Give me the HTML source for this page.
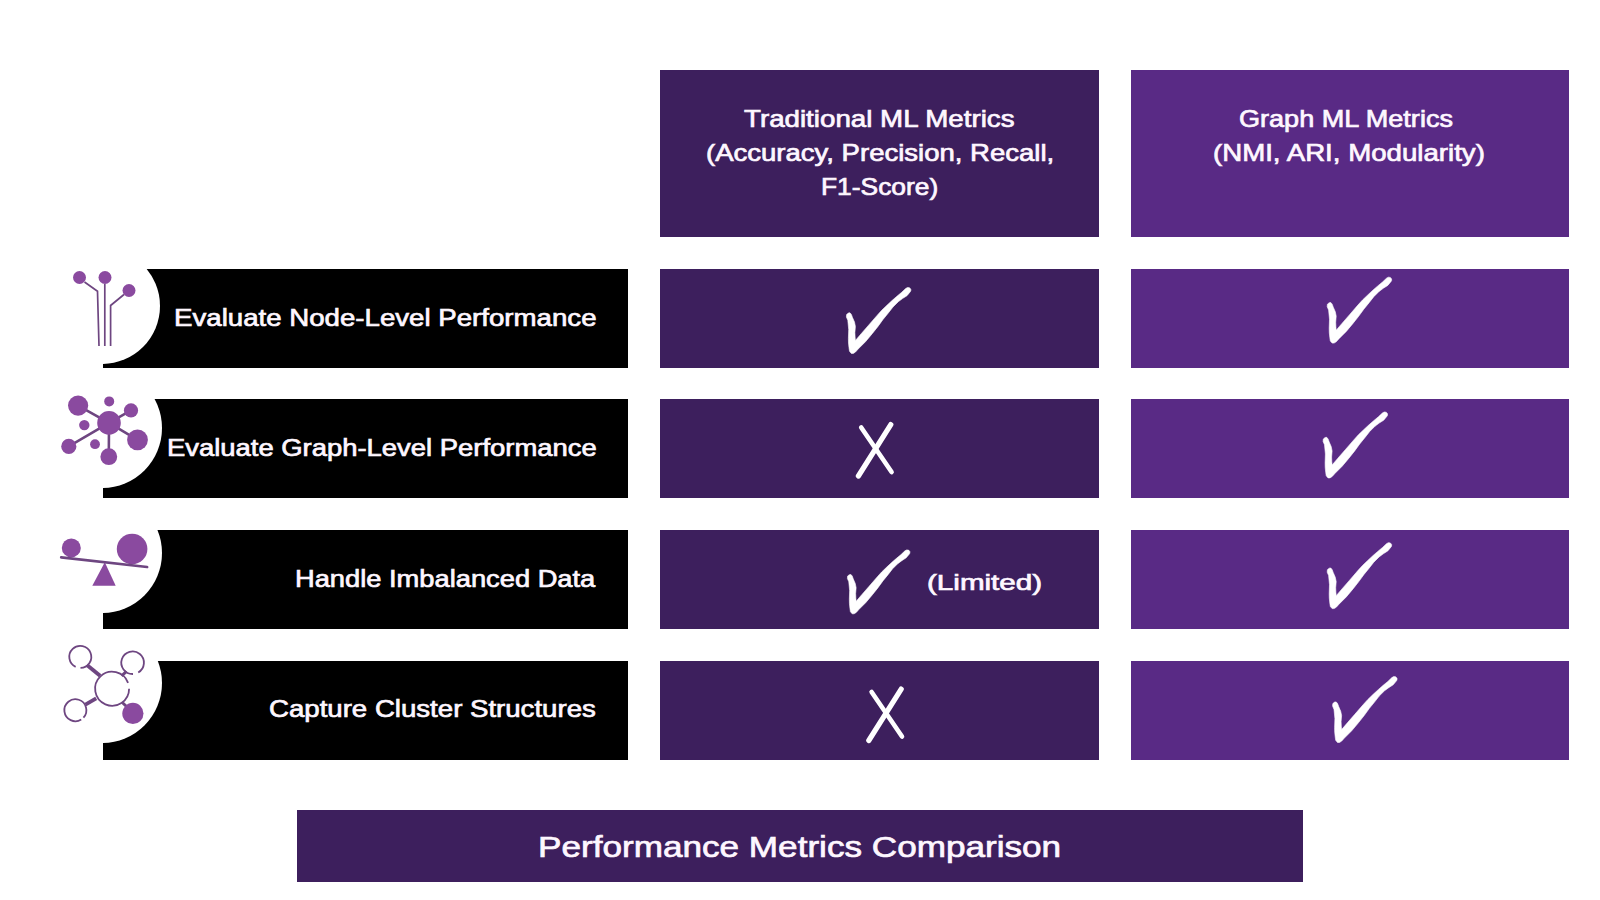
<!DOCTYPE html>
<html>
<head>
<meta charset="utf-8">
<style>
html,body{margin:0;padding:0;}
body{width:1600px;height:900px;position:relative;overflow:hidden;background:#fff;font-family:"Liberation Sans",sans-serif;}
.r{position:absolute;}
.t{position:absolute;white-space:nowrap;color:#fef7ff;transform-origin:0 0;}
svg{position:absolute;left:0;top:0;}
</style>
</head>
<body>
<div class="r" style="left:660px;top:70px;width:439px;height:167px;background:#3d1f5d"></div>
<div class="r" style="left:1131px;top:70px;width:438px;height:167px;background:#592a85"></div>
<div class="r" style="left:660px;top:269px;width:439px;height:99px;background:#3d1f5d"></div>
<div class="r" style="left:1131px;top:269px;width:438px;height:99px;background:#592a85"></div>
<div class="r" style="left:103px;top:269px;width:525px;height:99px;background:#000;overflow:hidden"><div class="r" style="left:-59px;top:-21px;width:116px;height:116px;border-radius:50%;background:#fff"></div></div>
<div class="r" style="left:660px;top:399px;width:439px;height:99px;background:#3d1f5d"></div>
<div class="r" style="left:1131px;top:399px;width:438px;height:99px;background:#592a85"></div>
<div class="r" style="left:103px;top:399px;width:525px;height:99px;background:#000;overflow:hidden"><div class="r" style="left:-61px;top:-31px;width:120px;height:120px;border-radius:50%;background:#fff"></div></div>
<div class="r" style="left:660px;top:530px;width:439px;height:99px;background:#3d1f5d"></div>
<div class="r" style="left:1131px;top:530px;width:438px;height:99px;background:#592a85"></div>
<div class="r" style="left:103px;top:530px;width:525px;height:99px;background:#000;overflow:hidden"><div class="r" style="left:-61px;top:-37px;width:120px;height:120px;border-radius:50%;background:#fff"></div></div>
<div class="r" style="left:660px;top:661px;width:439px;height:99px;background:#3d1f5d"></div>
<div class="r" style="left:1131px;top:661px;width:438px;height:99px;background:#592a85"></div>
<div class="r" style="left:103px;top:661px;width:525px;height:99px;background:#000;overflow:hidden"><div class="r" style="left:-61px;top:-38px;width:120px;height:120px;border-radius:50%;background:#fff"></div></div>
<div class="r" style="left:297px;top:810px;width:1006px;height:72px;background:#3d1f5d"></div>
<svg width="1600" height="900" viewBox="0 0 1600 900">

<g fill="none" stroke="#6e4681" stroke-width="1.7">
<path d="M84.5,282 L97.5,291.2 L99,346"/><path d="M104.8,284 L104.8,346"/><path d="M124,294.5 L110.6,305.5 L110.6,346"/>
</g>
<g fill="#8a4a9f"><circle cx="79.5" cy="277.5" r="6.5"/><circle cx="105" cy="277.5" r="6.5"/><circle cx="129" cy="290.5" r="6.5"/></g>

<g stroke="#6e4681" stroke-width="2.6"><path d="M109,422.9 L78.1,405.6 M109,422.9 L131,410.4 M109,422.9 L137.5,439.8 M109,422.9 L68.8,446.4 M109,422.9 L108.8,456.7"/></g>
<g fill="#8a4a9f"><circle cx="78.1" cy="405.6" r="10.1"/><circle cx="109.2" cy="401.4" r="5"/><circle cx="131" cy="410.4" r="7.1"/><circle cx="109" cy="422.9" r="11.8"/>
<circle cx="84.3" cy="425.1" r="5.2"/><circle cx="137.5" cy="439.8" r="10.4"/><circle cx="68.8" cy="446.4" r="7.6"/><circle cx="95" cy="444.2" r="4.9"/><circle cx="108.8" cy="456.7" r="8.4"/></g>

<g fill="#8a4a9f"><circle cx="71.3" cy="547.9" r="9.5"/><circle cx="132.1" cy="549" r="15.3"/><path d="M104.8,562.3 L115.7,585.7 L92.3,585.7 Z"/></g>
<path d="M61.2,557.3 L147.1,567" stroke="#6e4681" stroke-width="2.7" stroke-linecap="round"/>

<g stroke="#6e4681" fill="none">
<path d="M86.9,665 L100.1,675.8" stroke-width="3.8"/><path d="M126.5,671.4 L121.6,675.8" stroke-width="3"/>
<path d="M85.4,704.6 L96.2,698.3" stroke-width="3.8"/><path d="M122.6,702.7 L127,707" stroke-width="3"/>
<g stroke-width="1.8">
<path d="M129.10,688.70 A17,17 0 1 1 128.07,682.89"/>
<path d="M75.65,666.87 A11,11 0 1 1 80.49,667.90"/>
<path d="M132.99,673.99 A11.3,11.3 0 1 1 138.25,672.49"/>
<path d="M81.23,719.53 A11,11 0 1 1 83.44,717.70"/>
</g></g>
<circle cx="132.9" cy="713.4" r="10.6" fill="#8a4a9f"/>

<path d="M848.4,313 L850,312.8 L851.4,314.5 L852.5,317.5 L854.5,322.1 L855.4,326.4 L854.9,332.5 L855.1,337 L855.4,340.5 L861.2,333.7 L868.6,325.2 L877.1,315.4 L881.7,310.3 L887,305.2 L892.3,300.3 L897,296.2 L901.7,292.3 L905.7,288.5 L907.5,287.5 L909.5,287.7 L910.8,289.2 L910.8,290.8 L910.3,291.7 L907,295.7 L902.5,298.6 L898.3,301.7 L893,307 L888.3,313 L883,319.5 L878,326.4 L872.2,333.7 L865.5,341.7 L858.2,349 L855.5,352 L853.3,353.4 L851.3,353.4 L849.5,351.2 L849,347.8 L848.5,343 L848.4,338.6 L848.7,329.5 L847.8,320.3 L846.4,317 L846.6,314.5 Z" transform="translate(0,0)" fill="#fff" stroke="#fff" stroke-width="0.6" stroke-linejoin="round"/>
<path d="M848.4,313 L850,312.8 L851.4,314.5 L852.5,317.5 L854.5,322.1 L855.4,326.4 L854.9,332.5 L855.1,337 L855.4,340.5 L861.2,333.7 L868.6,325.2 L877.1,315.4 L881.7,310.3 L887,305.2 L892.3,300.3 L897,296.2 L901.7,292.3 L905.7,288.5 L907.5,287.5 L909.5,287.7 L910.8,289.2 L910.8,290.8 L910.3,291.7 L907,295.7 L902.5,298.6 L898.3,301.7 L893,307 L888.3,313 L883,319.5 L878,326.4 L872.2,333.7 L865.5,341.7 L858.2,349 L855.5,352 L853.3,353.4 L851.3,353.4 L849.5,351.2 L849,347.8 L848.5,343 L848.4,338.6 L848.7,329.5 L847.8,320.3 L846.4,317 L846.6,314.5 Z" transform="translate(480.8,-10.3)" fill="#fff" stroke="#fff" stroke-width="0.6" stroke-linejoin="round"/>
<path d="M848.4,313 L850,312.8 L851.4,314.5 L852.5,317.5 L854.5,322.1 L855.4,326.4 L854.9,332.5 L855.1,337 L855.4,340.5 L861.2,333.7 L868.6,325.2 L877.1,315.4 L881.7,310.3 L887,305.2 L892.3,300.3 L897,296.2 L901.7,292.3 L905.7,288.5 L907.5,287.5 L909.5,287.7 L910.8,289.2 L910.8,290.8 L910.3,291.7 L907,295.7 L902.5,298.6 L898.3,301.7 L893,307 L888.3,313 L883,319.5 L878,326.4 L872.2,333.7 L865.5,341.7 L858.2,349 L855.5,352 L853.3,353.4 L851.3,353.4 L849.5,351.2 L849,347.8 L848.5,343 L848.4,338.6 L848.7,329.5 L847.8,320.3 L846.4,317 L846.6,314.5 Z" transform="translate(476.7,124.5)" fill="#fff" stroke="#fff" stroke-width="0.6" stroke-linejoin="round"/>
<path d="M848.4,313 L850,312.8 L851.4,314.5 L852.5,317.5 L854.5,322.1 L855.4,326.4 L854.9,332.5 L855.1,337 L855.4,340.5 L861.2,333.7 L868.6,325.2 L877.1,315.4 L881.7,310.3 L887,305.2 L892.3,300.3 L897,296.2 L901.7,292.3 L905.7,288.5 L907.5,287.5 L909.5,287.7 L910.8,289.2 L910.8,290.8 L910.3,291.7 L907,295.7 L902.5,298.6 L898.3,301.7 L893,307 L888.3,313 L883,319.5 L878,326.4 L872.2,333.7 L865.5,341.7 L858.2,349 L855.5,352 L853.3,353.4 L851.3,353.4 L849.5,351.2 L849,347.8 L848.5,343 L848.4,338.6 L848.7,329.5 L847.8,320.3 L846.4,317 L846.6,314.5 Z" transform="translate(878.4,582.3) scale(0.97) translate(-878.35,-320.9)" fill="#fff" stroke="#fff" stroke-width="0.6" stroke-linejoin="round"/>
<path d="M848.4,313 L850,312.8 L851.4,314.5 L852.5,317.5 L854.5,322.1 L855.4,326.4 L854.9,332.5 L855.1,337 L855.4,340.5 L861.2,333.7 L868.6,325.2 L877.1,315.4 L881.7,310.3 L887,305.2 L892.3,300.3 L897,296.2 L901.7,292.3 L905.7,288.5 L907.5,287.5 L909.5,287.7 L910.8,289.2 L910.8,290.8 L910.3,291.7 L907,295.7 L902.5,298.6 L898.3,301.7 L893,307 L888.3,313 L883,319.5 L878,326.4 L872.2,333.7 L865.5,341.7 L858.2,349 L855.5,352 L853.3,353.4 L851.3,353.4 L849.5,351.2 L849,347.8 L848.5,343 L848.4,338.6 L848.7,329.5 L847.8,320.3 L846.4,317 L846.6,314.5 Z" transform="translate(480.8,255.2)" fill="#fff" stroke="#fff" stroke-width="0.6" stroke-linejoin="round"/>
<path d="M848.4,313 L850,312.8 L851.4,314.5 L852.5,317.5 L854.5,322.1 L855.4,326.4 L854.9,332.5 L855.1,337 L855.4,340.5 L861.2,333.7 L868.6,325.2 L877.1,315.4 L881.7,310.3 L887,305.2 L892.3,300.3 L897,296.2 L901.7,292.3 L905.7,288.5 L907.5,287.5 L909.5,287.7 L910.8,289.2 L910.8,290.8 L910.3,291.7 L907,295.7 L902.5,298.6 L898.3,301.7 L893,307 L888.3,313 L883,319.5 L878,326.4 L872.2,333.7 L865.5,341.7 L858.2,349 L855.5,352 L853.3,353.4 L851.3,353.4 L849.5,351.2 L849,347.8 L848.5,343 L848.4,338.6 L848.7,329.5 L847.8,320.3 L846.4,317 L846.6,314.5 Z" transform="translate(486.2,389.1)" fill="#fff" stroke="#fff" stroke-width="0.6" stroke-linejoin="round"/>
<g transform="translate(0,0)" stroke="#fff" stroke-linecap="round" fill="none"><path d="M861.2,427.5 L891.6,472" stroke-width="4.6"/><path d="M890.8,424.6 L858.4,476" stroke-width="5.2"/></g>
<g transform="translate(10.4,264.5)" stroke="#fff" stroke-linecap="round" fill="none"><path d="M861.2,427.5 L891.6,472" stroke-width="4.6"/><path d="M890.8,424.6 L858.4,476" stroke-width="5.2"/></g>
</svg>
<div class="t" style="left:744.20px;top:107.28px;font-size:24.13px;line-height:24.13px;font-weight:normal;transform:scaleX(1.1487);-webkit-text-stroke:0.7px #fef7ff;">Traditional ML Metrics</div>
<div class="t" style="left:705.70px;top:141.08px;font-size:24.13px;line-height:24.13px;font-weight:normal;transform:scaleX(1.1409);-webkit-text-stroke:0.7px #fef7ff;">(Accuracy, Precision, Recall,</div>
<div class="t" style="left:820.74px;top:175.08px;font-size:24.13px;line-height:24.13px;font-weight:normal;transform:scaleX(1.0928);-webkit-text-stroke:0.7px #fef7ff;">F1-Score)</div>
<div class="t" style="left:1239.00px;top:107.08px;font-size:24.13px;line-height:24.13px;font-weight:normal;transform:scaleX(1.1212);-webkit-text-stroke:0.7px #fef7ff;">Graph ML Metrics</div>
<div class="t" style="left:1213.19px;top:141.08px;font-size:24.13px;line-height:24.13px;font-weight:normal;transform:scaleX(1.1458);-webkit-text-stroke:0.7px #fef7ff;">(NMI, ARI, Modularity)</div>
<div class="t" style="left:173.84px;top:305.91px;font-size:24.56px;line-height:24.56px;font-weight:normal;transform:scaleX(1.1260);-webkit-text-stroke:0.7px #fef7ff;">Evaluate Node-Level Performance</div>
<div class="t" style="left:166.66px;top:436.01px;font-size:24.56px;line-height:24.56px;font-weight:normal;transform:scaleX(1.1167);-webkit-text-stroke:0.7px #fef7ff;">Evaluate Graph-Level Performance</div>
<div class="t" style="left:295.07px;top:567.01px;font-size:24.56px;line-height:24.56px;font-weight:normal;transform:scaleX(1.1114);-webkit-text-stroke:0.7px #fef7ff;">Handle Imbalanced Data</div>
<div class="t" style="left:269.47px;top:697.21px;font-size:24.56px;line-height:24.56px;font-weight:normal;transform:scaleX(1.1246);-webkit-text-stroke:0.7px #fef7ff;">Capture Cluster Structures</div>
<div class="t" style="left:927.27px;top:572.43px;font-size:22.53px;line-height:22.53px;font-weight:normal;transform:scaleX(1.3140);-webkit-text-stroke:0.7px #fef7ff;">(Limited)</div>
<div class="t" style="left:538.14px;top:831.49px;font-size:30.38px;line-height:30.38px;font-weight:normal;transform:scaleX(1.1564);-webkit-text-stroke:0.7px #fef7ff;">Performance Metrics Comparison</div>
</body>
</html>
